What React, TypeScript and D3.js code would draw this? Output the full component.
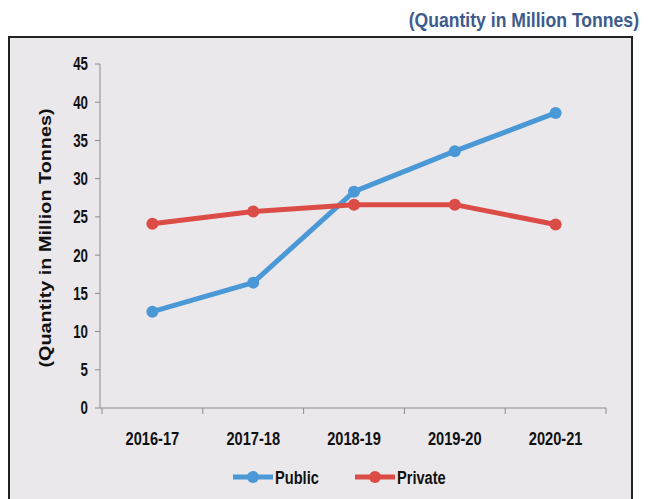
import React from "react";
import * as d3 from "d3";

const categories = ["2016-17", "2017-18", "2018-19", "2019-20", "2020-21"];
const publicValues = [12.6, 16.4, 28.3, 33.6, 38.6];
const privateValues = [24.1, 25.7, 26.6, 26.6, 24.0];
const yTicks = [0, 5, 10, 15, 20, 25, 30, 35, 40, 45];
const seriesNames = ["Public", "Private"];

const W = 653;
const H = 499;
const FONT = "'Liberation Sans', Arial, sans-serif";

function NText(props: {
  x: number;
  y: number;
  size: number;
  sx: number;
  anchor?: "start" | "middle" | "end";
  fill?: string;
  dy?: string;
  children: React.ReactNode;
}) {
  const { x, y, size, sx, anchor = "start", fill = "#111", dy, children } = props;
  return (
    <text
      transform={`translate(${x},${y}) scale(${sx},1)`}
      textAnchor={anchor}
      dy={dy}
      fontFamily={FONT}
      fontWeight="bold"
      fontSize={size}
      fill={fill}
    >
      {children}
    </text>
  );
}

export default function App() {
  const x = d3.scaleBand<string>().domain(categories).range([102, 606]);
  const y = d3.scaleLinear().domain([0, 45]).range([408, 64]);
  const cx = (i: number) => (x(categories[i]) as number) + x.bandwidth() / 2;
  const line = d3
    .line<number>()
    .x((_, i) => cx(i))
    .y((d) => y(d));
  const series = [
    { name: seriesNames[0], values: publicValues, color: "#4a98d6" },
    { name: seriesNames[1], values: privateValues, color: "#db4c47" },
  ];
  const boundaries = [...categories.map((c) => x(c) as number), 606];

  return (
    <svg
      width={W}
      height={H}
      style={{ position: "absolute", left: 0, top: 0, background: "#fff" }}
    >
      <NText x={639} y={27} size={20} sx={0.88} anchor="end" fill="#3d5b8c">
        (Quantity in Million Tonnes)
      </NText>
      <rect x={9} y={37} width={623} height={480} fill="#ebe8ec" stroke="#222" strokeWidth={2} />
      {/* y axis */}
      <line x1={100} x2={100} y1={64} y2={408} stroke="#8a8a8a" strokeWidth={1} />
      {yTicks.map((t) => (
        <g key={t}>
          <line x1={95} x2={100} y1={y(t)} y2={y(t)} stroke="#8a8a8a" />
          <NText x={88} y={y(t)} dy="0.36em" size={18} sx={0.74} anchor="end">
            {t}
          </NText>
        </g>
      ))}
      <text
        transform={`translate(51,238) rotate(-90)`}
        textAnchor="middle"
        fontFamily={FONT}
        fontWeight="bold"
        fontSize={17}
        fill="#111"
        textLength={259}
        lengthAdjust="spacingAndGlyphs"
      >
        (Quantity in Million Tonnes)
      </text>
      {/* x axis */}
      <line x1={100} x2={606} y1={408} y2={408} stroke="#8a8a8a" />
      {boundaries.map((b, i) => (
        <line key={i} x1={b} x2={b} y1={408} y2={414} stroke="#8a8a8a" />
      ))}
      {categories.map((c, i) => (
        <NText key={c} x={cx(i)} y={445} size={19} sx={0.77} anchor="middle">
          {c}
        </NText>
      ))}
      {/* series */}
      {series.map((s) => (
        <g key={s.name}>
          <path d={line(s.values) || ""} fill="none" stroke={s.color} strokeWidth={5} strokeLinejoin="round" />
          {s.values.map((v, i) => (
            <circle key={i} cx={cx(i)} cy={y(v)} r={6} fill={s.color} />
          ))}
        </g>
      ))}
      {/* legend */}
      {series.map((s, i) => {
        const lx = i === 0 ? 233 : 355;
        return (
          <g key={s.name}>
            <line x1={lx} x2={lx + 40} y1={477} y2={477} stroke={s.color} strokeWidth={5} />
            <circle cx={lx + 20} cy={477} r={6} fill={s.color} />
            <NText x={lx + 42} y={477} dy="0.36em" size={19} sx={0.77}>
              {s.name}
            </NText>
          </g>
        );
      })}
    </svg>
  );
}
